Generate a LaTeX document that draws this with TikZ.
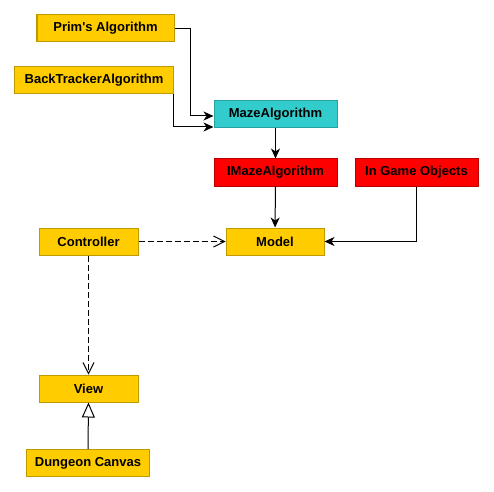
\documentclass[tikz,border=0pt]{standalone}
\usepackage{fontspec}
\setmainfont{Liberation Sans}
\usetikzlibrary{arrows.meta}
\definecolor{yfill}{HTML}{FFCC00}
\definecolor{ylight}{HTML}{FFE680}
\definecolor{ydark}{HTML}{BF9900}
\definecolor{cfill}{HTML}{33CCCC}
\definecolor{clight}{HTML}{70E0E0}
\definecolor{cdark}{HTML}{26A0A0}
\definecolor{rfill}{HTML}{FF0000}
\definecolor{rlight}{HTML}{FF6A6A}
\definecolor{rdark}{HTML}{B80000}
\begin{document}
\begin{tikzpicture}[x=1bp,y=-1bp,
  basebox/.style={inner sep=0pt, minimum height=27bp, line width=1bp,
    font=\fontsize{13bp}{15bp}\selectfont\bfseries},
  ybox/.style={basebox, fill=yfill, draw=ydark,
    append after command={[draw=ylight,line width=1bp] (\tikzlastnode.south west) |- (\tikzlastnode.north east)}},
  cbox/.style={basebox, fill=cfill, draw=cdark,
    append after command={[draw=clight,line width=1bp] (\tikzlastnode.south west) |- (\tikzlastnode.north east)}},
  rbox/.style={basebox, fill=rfill, draw=rdark,
    append after command={[draw=rlight,line width=1bp] (\tikzlastnode.south west) |- (\tikzlastnode.north east)}},
  solidarr/.style={line width=1bp, -{Stealth[length=10bp,width=9bp,inset=3bp]}},
  deparr/.style={line width=1bp, dash pattern=on 6bp off 3bp, -{Straight Barb[length=11bp,width=11bp]}},
  genarr/.style={line width=1bp, -{Triangle[open,length=15bp,width=13bp]}}
]
\useasboundingbox (0,0) rectangle (494,492);
\fill[white] (0,0) rectangle (494,492);

\node[ybox, minimum width=137bp] (prim) at (105.5,28.5) {Prim\textquotesingle s Algorithm};
\node[ybox, minimum width=158bp] (back) at (94,80.5) {BackTrackerAlgorithm};
\node[cbox, minimum width=123bp] (maze) at (275.5,114.5) {MazeAlgorithm};
\node[rbox, minimum width=123bp] (imaze) at (275.5,172.5) {IMazeAlgorithm};
\node[rbox, minimum width=123bp] (ingame) at (416.5,172.5) {In Game Objects};
\node[ybox, minimum width=98bp] (model) at (275,241.5) {Model};
\node[ybox, minimum width=99bp] (ctrl) at (88.5,241.5) {Controller};
\node[ybox, minimum width=99bp] (view) at (88.5,388.5) {View};
\node[ybox, minimum width=122bp] (dung) at (88,463) {Dungeon Canvas};

\coordinate (pj) at (190,116);
\coordinate (bj) at (173,127);
\draw[solidarr] (prim.east) -| (pj) -- (maze.west |- pj);
\draw[solidarr] (back.south east -| bj) -- (bj) -- (maze.west |- bj);
\draw[solidarr] (maze) -- (imaze);
\draw[solidarr] (imaze) -- (model);
\draw[solidarr] (ingame.south) |- (model.east);
\draw[deparr] (ctrl.east) -- (model.west);
\draw[deparr] (ctrl.south) -- (view.north);
\draw[genarr] (dung.north) -- (view.south);
\end{tikzpicture}
\end{document}
